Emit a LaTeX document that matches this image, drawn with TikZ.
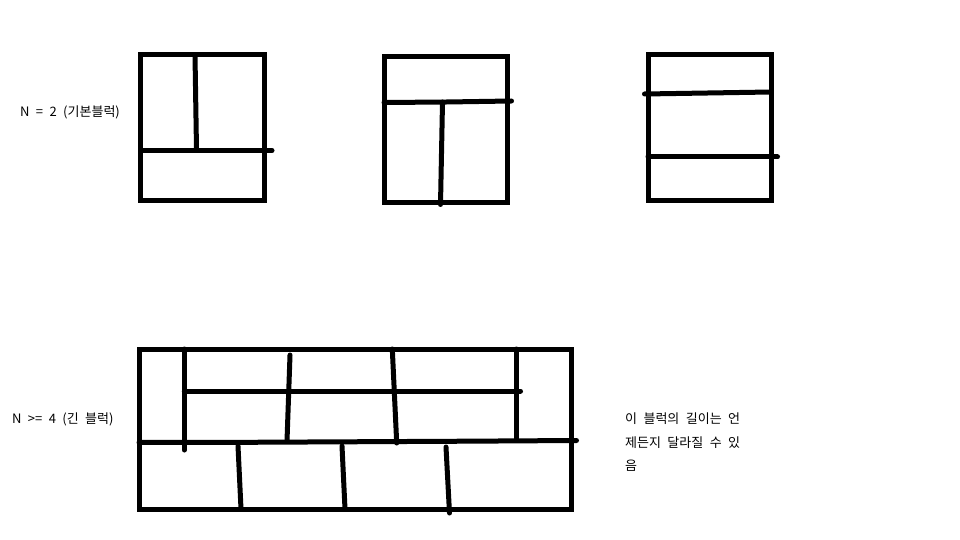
\documentclass[tikz,border=0pt]{standalone}
\usepackage{fontspec}
\setmainfont[WordSpace=2.2]{Noto Sans CJK KR}
\begin{document}
\begin{tikzpicture}[x=1pt,y=-1pt,
  wall/.style={line width=5pt,line join=miter},
  brick/.style={line width=5pt,line cap=round},
  lbl/.style={font=\fontsize{13}{23.5}\selectfont,inner sep=0pt,text=black}]
\useasboundingbox[fill=white] (0,0) rectangle (960,540);
% labels
\node[lbl,anchor=west] (n2) at (20,112) {N = 2 (기본블럭)};
\node[lbl,anchor=west] (n4) at (12,419) {N >= 4 (긴 블럭)};
\node[lbl,anchor=north west,align=left] (note) at (625,413) {이 블럭의 길이는 언\\제든지 달라질 수 있\\음};
% block 1
\draw[wall] (140.5,55) rectangle (264.5,200);
\draw[brick] (140.5,150.5) -- (272,150.5);
\draw[brick] (195,55) -- (196.5,150);
% block 2
\draw[wall] (384,57) rectangle (507,202);
\draw[brick] (384,102.5) -- (446.5,102) -- (511.5,101);
\draw[brick] (442.5,102) -- (440.5,204.5);
% block 3
\draw[wall] (648,54.5) rectangle (771,200);
\draw[brick] (644.5,94) -- (771,92);
\draw[brick] (648,157) -- (777.5,157);
% long block
\draw[wall] (139,349) rectangle (571,509);
\draw[brick] (139,442.5) -- (247,442.3) -- (466,441.2) -- (576.5,440.5);
\draw[brick] (184.3,391) -- (520.5,391);
\draw[brick] (184.3,349) -- (184.3,450);
\draw[brick] (290,355) -- (287,441);
\draw[brick] (392.3,349) -- (396.7,443);
\draw[brick] (516,349) -- (516,439);
\draw[brick] (238,446) -- (241,509);
\draw[brick] (342,446) -- (345,509);
\draw[brick] (446,447) -- (449.5,513);
\end{tikzpicture}
\end{document}
